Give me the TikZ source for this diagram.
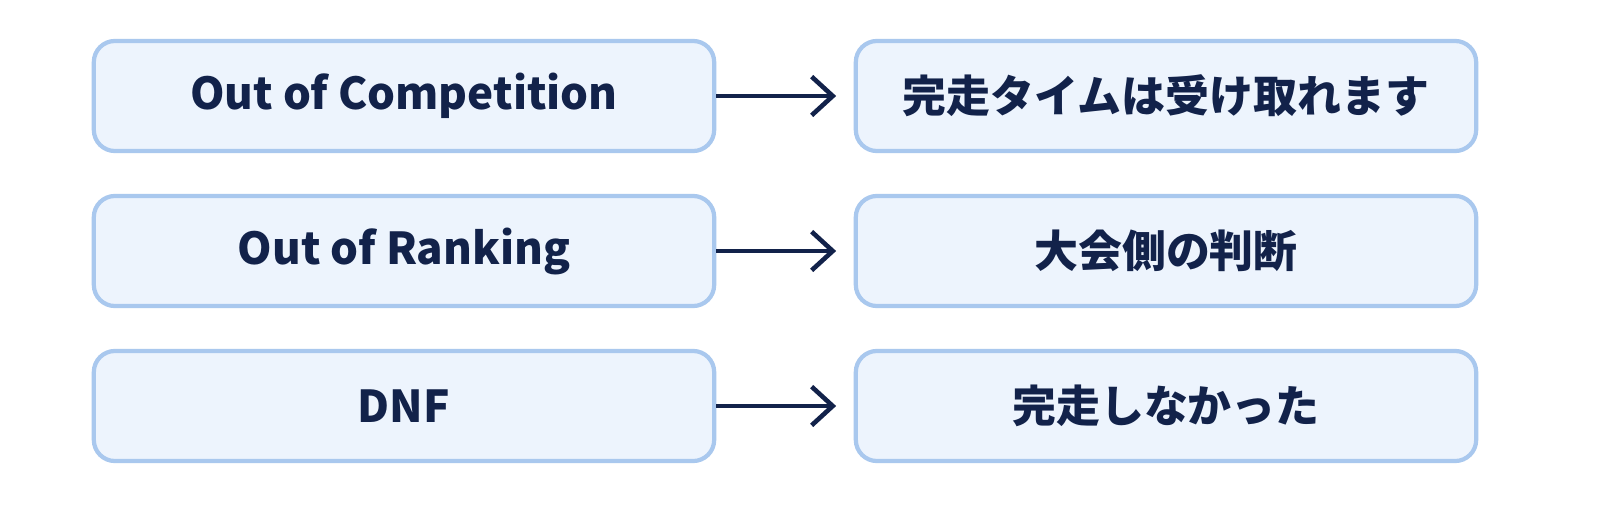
\documentclass[tikz,border=0pt]{standalone}
\usepackage{fontspec}
\usetikzlibrary{arrows.meta}
\setmainfont{Noto Sans CJK JP}[BoldFont={* Black}]
\definecolor{boxline}{HTML}{A9C8EE}
\definecolor{boxfill}{HTML}{EDF4FD}
\definecolor{txt}{HTML}{12224A}
\begin{document}
\begin{tikzpicture}[x=0.01cm,y=-0.01cm,
  box/.style={draw=boxline,fill=boxfill,line width=1.2pt,rounded corners=6pt,minimum width=6.2cm,minimum height=1.1cm,inner sep=0pt,font=\fontsize{12.5}{14}\selectfont\bfseries,text=txt},
  arr/.style={draw=txt,line width=1.3pt,-{Straight Barb[length=6pt,width=11pt]}}]
\useasboundingbox[fill=white] (0,0) rectangle (1600,509);
\node[box] (l1) at (404,96) {Out of Competition};
\node[box] (l2) at (404,251) {Out of Ranking};
\node[box] (l3) at (404,406) {DNF};
\node[box] (r1) at (1166,96) {完走タイムは受け取れます};
\node[box] (r2) at (1166,251) {大会側の判断};
\node[box] (r3) at (1166,406) {完走しなかった};
\foreach \i in {1,2,3}{\draw[arr] (l\i.east) -- ([xshift=-5pt]r\i.west);}
\end{tikzpicture}
\end{document}
